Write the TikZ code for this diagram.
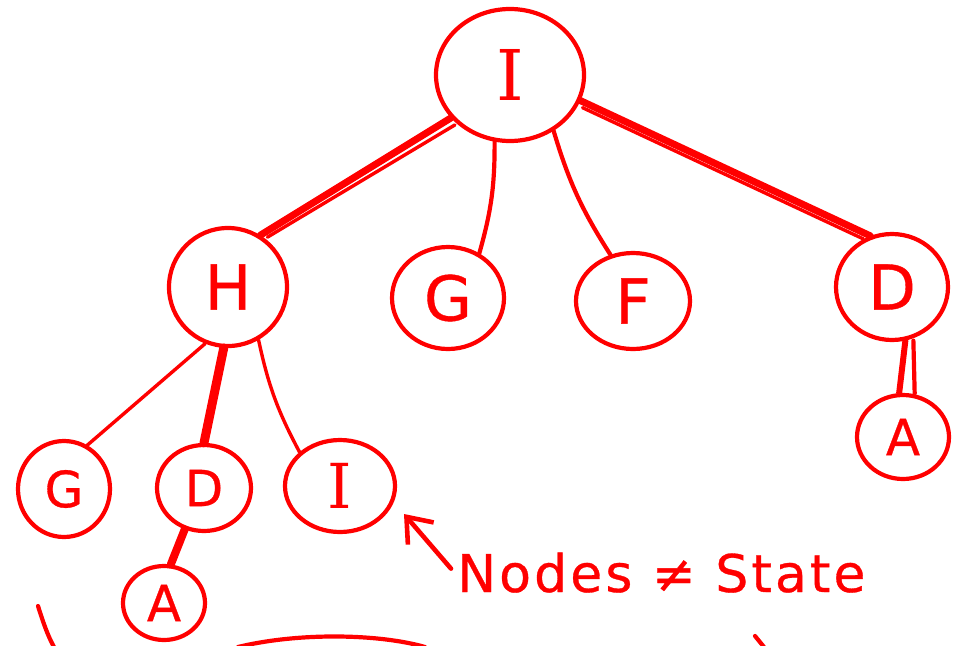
\documentclass[tikz,border=0pt]{standalone}
\usepackage{fontspec}
\setmainfont{DejaVu Sans}
\newfontfamily\barfont{DejaVu Serif}
\usetikzlibrary{shapes.geometric,arrows.meta}
\begin{document}
\begin{tikzpicture}[x=1pt,y=-1pt,
  ink/.style={draw=red, line width=4.2pt, line cap=round, line join=round},
  state/.style={ink, ellipse, inner sep=0pt, text=red,
    font=\fontsize{62}{62}\selectfont\addfontfeature{FakeBold=0.6}},
  big/.style={state, font=\fontsize{70}{70}\selectfont},
  small/.style={state, font=\fontsize{50}{50}\selectfont\addfontfeature{FakeBold=0.6}},
  heavy/.style={ink, line width=7pt},
  twig/.style={ink, line width=3.4pt}]
\useasboundingbox (0,0) rectangle (957,645);

% tree nodes
\node[big, minimum width=148pt, minimum height=132pt] (root) at (510,75) {\barfont I};
\node[state, minimum width=118pt, minimum height=118pt] (h) at (228,287) {H};
\node[state, minimum width=112pt, minimum height=102pt] (g1) at (448,298) {G};
\node[state, minimum width=114pt, minimum height=96pt] (f) at (633,301) {F};
\node[state, minimum width=112pt, minimum height=106pt] (d1) at (892,287) {D};
\node[small, minimum width=92pt, minimum height=84pt] (a1) at (903,437) {A};
\node[small, minimum width=92pt, minimum height=96pt] (g2) at (64,489) {G};
\node[small, minimum width=94pt, minimum height=86pt] (d2) at (204,488) {D};
\node[state, minimum width=110pt, minimum height=92pt] (i2) at (340,486) {\barfont I};
\node[small, minimum width=82pt, minimum height=74pt] (a2) at (164,603) {A};

% edges from the root
\draw[heavy] (root.216) -- (h.58);
\draw[twig] ([shift={(4,7)}]root.216) -- ([shift={(7,2)}]h.58);
\draw[ink] (root.257) to[bend left=8] (g1.55);
\draw[ink] (root.308) to[bend right=8] (f.116);
\draw[heavy] (root.340) -- (d1.113);
\draw[twig] ([shift={(2,7)}]root.340) -- ([shift={(-7,3)}]d1.113);

% edges below H
\draw[twig] (h.248) -- (g2.62);
\draw[heavy, line width=9pt] (h.266) -- (d2.90);
\draw[twig] (h.300) to[bend right=8] (i2.140);

% edges to the leaves A
\draw[heavy, line width=6pt] (d1.284) -- (a1.95);
\draw[ink] ([shift={(8,0)}]d1.284) -- ([shift={(4,0)}]a1.80);
\draw[heavy, line width=8pt] (d2.245) -- (a2.80);

% annotation with its arrow
\node[text=red, font=\fontsize{52}{52}\selectfont\addfontfeature{LetterSpace=6,FakeBold=0.6},
  anchor=base west, inner sep=0pt] (note) at (457,592) {Nodes ≠ State};
\coordinate (tip) at (404,514);
\draw[ink, line width=4.6pt, -{Straight Barb[length=22pt, width=34pt, line width=4.6pt]}]
  ([shift={(-6,-4)}]note.west) -- (tip);

% strokes running off the lower edge
\draw[ink] (38,606) .. controls (44,625) and (48,636) .. (54,647);
\draw[ink] (238,647) .. controls (300,632) and (380,634) .. (425,647);
\draw[ink] (755,636) -- (764,647);
\end{tikzpicture}
\end{document}
